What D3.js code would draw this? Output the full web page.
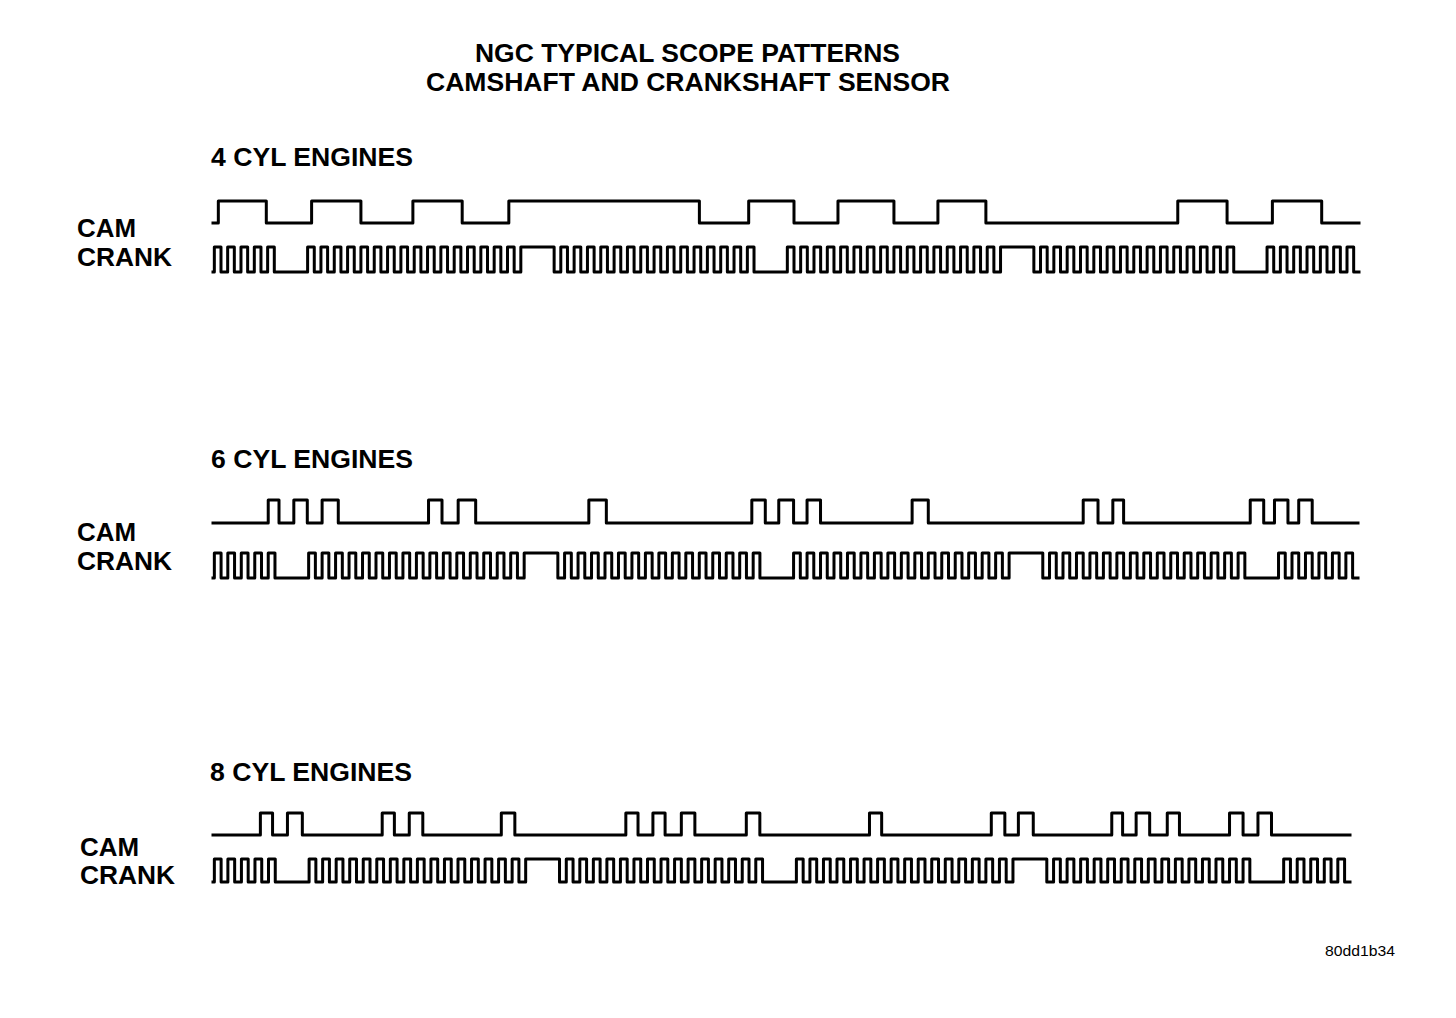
<!DOCTYPE html>
<html>
  <head>
    <title>NGC Typical Scope Patterns</title>
    <meta charset="utf-8">
    <style>
      body {
        margin: 0;
        background-color: white;
      }
      svg text {
        font-family: "Liberation Sans", Arial, sans-serif;
        font-weight: bold;
        fill: black;
      }
      .trace {
        fill: none;
        stroke: #000;
        stroke-width: 3;
        stroke-linejoin: round;
        stroke-linecap: square;
      }
    </style>
  </head>
  <body>
  <svg id="chart"></svg>
  <script src="https://d3js.org/d3.v7.min.js"></script>
  <script>
  // chart texts
  var titleLines = ["NGC TYPICAL SCOPE PATTERNS", "CAMSHAFT AND CRANKSHAFT SENSOR"];
  var engineNames = ["4 CYL ENGINES", "6 CYL ENGINES", "8 CYL ENGINES"];
  var signalNames = ["CAM", "CRANK"];
  var figureId = "80dd1b34";

  // cam sensor: crank degrees where the signal toggles (starts low)
  var camEdges4 = [4, 40, 74, 111, 150, 187, 222, 365, 402, 436, 469, 511, 544, 580, 724, 761, 795, 832];
  var camEdges6 = [41, 49, 60, 70, 81, 93, 160, 170, 182, 195, 279, 292, 400, 410, 420, 431, 441, 451,
                   519, 531, 646, 657, 668, 676, 770, 780, 788, 798, 806, 816];
  var camEdges8 = [35, 44, 55, 66, 125, 134, 145, 155, 213, 223, 305, 314, 325, 334, 346, 356, 394, 404,
                   485, 494, 575, 585, 595, 606, 664, 672, 682, 692, 705, 714, 751, 761, 772, 782];

  // crank sensor: teeth per group, and the gap after each group (2 missing teeth, held low or high)
  var crankTeeth4 = [5, 17, 15, 17, 15, 7];
  var crankGaps4 = ["low", "high", "low", "high", "low"];
  var crankTeeth6 = [5, 17, 15, 17, 15, 6];
  var crankGaps6 = ["low", "high", "low", "high", "low"];
  var crankTeeth8 = [5, 17, 15, 17, 15, 5];
  var crankGaps8 = ["low", "high", "low", "high", "low"];

  var width = 1456, height = 1018;
  var svg = d3.select("#chart").attr("width", width).attr("height", height);

  // layout of each engine block
  var rows = [
    {name: engineNames[0], cam: camEdges4, teeth: crankTeeth4, gaps: crankGaps4,
     x0: 213, x1: 1359, camY: [223, 201], crankY: [272, 247], headY: 166, headX: 211, labX: 77, labY: [237, 266]},
    {name: engineNames[1], cam: camEdges6, teeth: crankTeeth6, gaps: crankGaps6,
     x0: 213, x1: 1358, camY: [523, 500], crankY: [578, 553], headY: 468, headX: 211, labX: 77, labY: [541, 570]},
    {name: engineNames[2], cam: camEdges8, teeth: crankTeeth8, gaps: crankGaps8,
     x0: 213, x1: 1350, camY: [835, 813], crankY: [882, 859], headY: 781, headX: 210, labX: 80, labY: [856, 884]}
  ];

  function crankPoints(teeth, gaps) {
    var pts = [[0, 0]];
    var s = 0;
    teeth.forEach(function(n, gi) {
      for (var t = 0; t < n; t++) {
        var holdHigh = (t === n - 1 && gaps[gi] === "high");
        var rise = s * 10 + 1;
        var fall = holdHigh ? (s + 2) * 10 + 6 : s * 10 + 6;
        pts.push([rise, 0], [rise, 1], [fall, 1], [fall, 0]);
        s += 1;
      }
      if (gaps[gi]) s += 2;
    });
    pts.push([s * 10, 0]);
    return {pts: pts, total: s * 10};
  }

  function camPoints(edges, total) {
    var pts = [[0, 0]];
    var lvl = 0;
    edges.forEach(function(e) {
      pts.push([e, lvl]);
      lvl = 1 - lvl;
      pts.push([e, lvl]);
    });
    pts.push([total, lvl]);
    return pts;
  }

  // titles
  svg.append("text").attr("x", 475).attr("y", 62)
    .attr("font-size", 25).attr("textLength", 425).attr("lengthAdjust", "spacingAndGlyphs")
    .text(titleLines[0]);
  svg.append("text").attr("x", 426).attr("y", 91)
    .attr("font-size", 25).attr("textLength", 524).attr("lengthAdjust", "spacingAndGlyphs")
    .text(titleLines[1]);

  rows.forEach(function(r) {
    var crank = crankPoints(r.teeth, r.gaps);
    var x = d3.scaleLinear().domain([0, crank.total]).range([r.x0, r.x1]);
    var yCam = d3.scaleLinear().domain([0, 1]).range(r.camY);
    var yCrank = d3.scaleLinear().domain([0, 1]).range(r.crankY);

    var g = svg.append("g");

    g.append("text").attr("x", r.headX).attr("y", r.headY)
      .attr("font-size", 25).attr("textLength", 202).attr("lengthAdjust", "spacingAndGlyphs")
      .text(r.name);

    g.append("text").attr("x", r.labX).attr("y", r.labY[0])
      .attr("font-size", 25).attr("textLength", 59).attr("lengthAdjust", "spacingAndGlyphs")
      .text(signalNames[0]);
    g.append("text").attr("x", r.labX).attr("y", r.labY[1])
      .attr("font-size", 25).attr("textLength", 95).attr("lengthAdjust", "spacingAndGlyphs")
      .text(signalNames[1]);

    g.append("path").attr("class", "trace")
      .attr("d", d3.line().x(function(d) { return x(d[0]); }).y(function(d) { return yCam(d[1]); })(camPoints(r.cam, crank.total)));

    g.append("path").attr("class", "trace")
      .attr("d", d3.line().x(function(d) { return x(d[0]); }).y(function(d) { return yCrank(d[1]); })(crank.pts));
  });

  svg.append("text").attr("x", 1325).attr("y", 956)
    .attr("font-size", 14).attr("textLength", 70).attr("lengthAdjust", "spacingAndGlyphs")
    .style("font-weight", "normal")
    .text(figureId);
  </script>
  </body>
</html>
